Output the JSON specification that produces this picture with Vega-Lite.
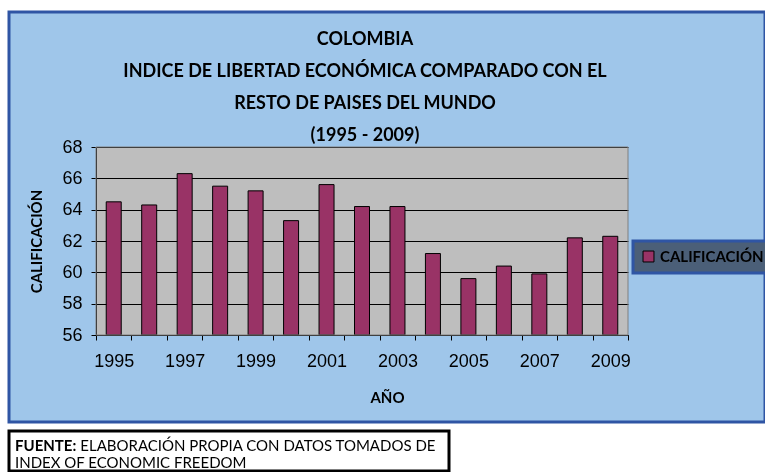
{
  "$schema": "https://vega.github.io/schema/vega-lite/v6.json",
  "background": "white",
  "padding": {"left": 7, "top": 10, "right": 0, "bottom": 0},
  "spacing": 5,
  "vconcat": [
    {
      "width": 756,
      "height": 410,
      "view": {"fill": "#9FC6EA", "stroke": "#2F55A4", "strokeWidth": 3},
      "title": {
        "text": ["COLOMBIA", "INDICE DE LIBERTAD ECONÓMICA COMPARADO CON EL", "RESTO DE PAISES DEL MUNDO", "(1995 - 2009)"],
        "font": "Lato",
        "fontSize": 18,
        "fontWeight": "bold",
        "color": "black",
        "lineHeight": 32,
        "anchor": "middle",
        "frame": "group",
        "offset": -133,
        "dx": -22
      },
      "layer": [
        {
          "data": {"values": [{"marco": 1}]},
          "mark": {"type": "rect", "fill": "#C0C0C0", "blend": "saturation"},
          "encoding": {
            "x": {"datum": 1994.5, "type": "quantitative"},
            "x2": {"datum": 2009.5},
            "y": {"datum": 56, "type": "quantitative"},
            "y2": {"datum": 68}
          }
        },
        {
          "data": {"values": [
            {"anio": 1995, "calificacion": 64.5},
            {"anio": 1996, "calificacion": 64.3},
            {"anio": 1997, "calificacion": 66.3},
            {"anio": 1998, "calificacion": 65.5},
            {"anio": 1999, "calificacion": 65.2},
            {"anio": 2000, "calificacion": 63.3},
            {"anio": 2001, "calificacion": 65.6},
            {"anio": 2002, "calificacion": 64.2},
            {"anio": 2003, "calificacion": 64.2},
            {"anio": 2004, "calificacion": 61.2},
            {"anio": 2005, "calificacion": 59.6},
            {"anio": 2006, "calificacion": 60.4},
            {"anio": 2007, "calificacion": 59.9},
            {"anio": 2008, "calificacion": 62.2},
            {"anio": 2009, "calificacion": 62.3}
          ]},
          "mark": {"type": "bar", "width": 15, "stroke": "black", "strokeWidth": 1},
          "encoding": {
            "x": {
              "field": "anio",
              "type": "quantitative",
              "scale": {"domain": [1994.5, 2009.5], "range": [87, 619], "nice": false, "zero": false, "padding": 0},
              "axis": {
                "title": "AÑO",
                "values": [1994.5, 1995.5, 1996.5, 1997.5, 1998.5, 1999.5, 2000.5, 2001.5, 2002.5, 2003.5, 2004.5, 2005.5, 2006.5, 2007.5, 2008.5, 2009.5],
                "labelExpr": "(datum.value + 0.5) % 2 == 1 ? format(datum.value + 0.5, 'd') : ''",
                "labelOffset": 17.7,
                "labelOverlap": false,
                "labelFlush": false,
                "labelPadding": 12,
                "grid": false,
                "offset": -87,
                "titleX": 378,
                "titlePadding": 20
              }
            },
            "y": {
              "field": "calificacion",
              "type": "quantitative",
              "scale": {"domain": [56, 68], "range": [323, 135], "nice": false, "zero": false, "padding": 0},
              "axis": {
                "title": "CALIFICACIÓN",
                "values": [56, 58, 60, 62, 64, 66, 68],
                "grid": true,
                "offset": -87,
                "labelPadding": 9,
                "titlePadding": 17
              }
            },
            "y2": {"datum": 56},
            "color": {
              "datum": "CALIFICACIÓN",
              "scale": {"range": ["#993366"]},
              "legend": {
                "title": null,
                "orient": "none",
                "legendX": 624,
                "legendY": 229,
                "fillColor": "#4B5F78",
                "strokeColor": "#2F55A4",
                "padding": 8,
                "symbolType": "square",
                "symbolSize": 120,
                "symbolStrokeColor": "black",
                "symbolStrokeWidth": 1,
                "labelFont": "Lato",
                "labelFontSize": 15,
                "labelFontWeight": "bold",
                "labelColor": "black",
                "labelOffset": 4,
                "labelLimit": 0,
                "encode": {"legend": {"update": {"strokeWidth": {"value": 3}}}}
              }
            }
          }
        },
        {
          "data": {"values": [{"marco": 1}]},
          "mark": {"type": "rect", "fill": null, "stroke": "#808080", "strokeWidth": 1},
          "encoding": {
            "x": {"datum": 1994.5, "type": "quantitative"},
            "x2": {"datum": 2009.5},
            "y": {"datum": 56, "type": "quantitative"},
            "y2": {"datum": 68}
          }
        }
      ]
    },
    {
      "width": 440,
      "height": 40,
      "view": {"fill": "white", "stroke": "black", "strokeWidth": 3},
      "data": {"values": [{"nota": ""}]},
      "mark": {"type": "text"},
      "encoding": {"text": {"field": "nota"}},
      "title": {
        "text": "FUENTE:",
        "subtitle": ["\u200b\u00a0\u00a0\u00a0\u00a0\u00a0\u00a0\u00a0\u00a0\u00a0\u00a0\u00a0\u00a0\u00a0\u00a0\u00a0\u00a0\u00a0ELABORACIÓN PROPIA CON DATOS TOMADOS DE", "INDEX OF ECONOMIC FREEDOM"],
        "anchor": "start",
        "frame": "group",
        "orient": "top",
        "offset": -40,
        "dx": 6,
        "font": "Lato",
        "fontSize": 15,
        "fontWeight": "bold",
        "lineHeight": 17.5,
        "color": "black",
        "subtitleFont": "Lato",
        "subtitleFontSize": 15,
        "subtitleFontWeight": "normal",
        "subtitleLineHeight": 17.5,
        "subtitleColor": "black",
        "subtitlePadding": -15
      }
    }
  ],
  "config": {
    "axis": {
      "domainColor": "black",
      "tickColor": "black",
      "tickSize": 5,
      "gridColor": "black",
      "gridWidth": 1,
      "gridOpacity": 1,
      "labelFont": "Liberation Sans",
      "labelFontSize": 18,
      "labelColor": "black",
      "titleFont": "Lato",
      "titleFontSize": 15,
      "titleFontWeight": "bold",
      "titleColor": "black"
    }
  }
}
